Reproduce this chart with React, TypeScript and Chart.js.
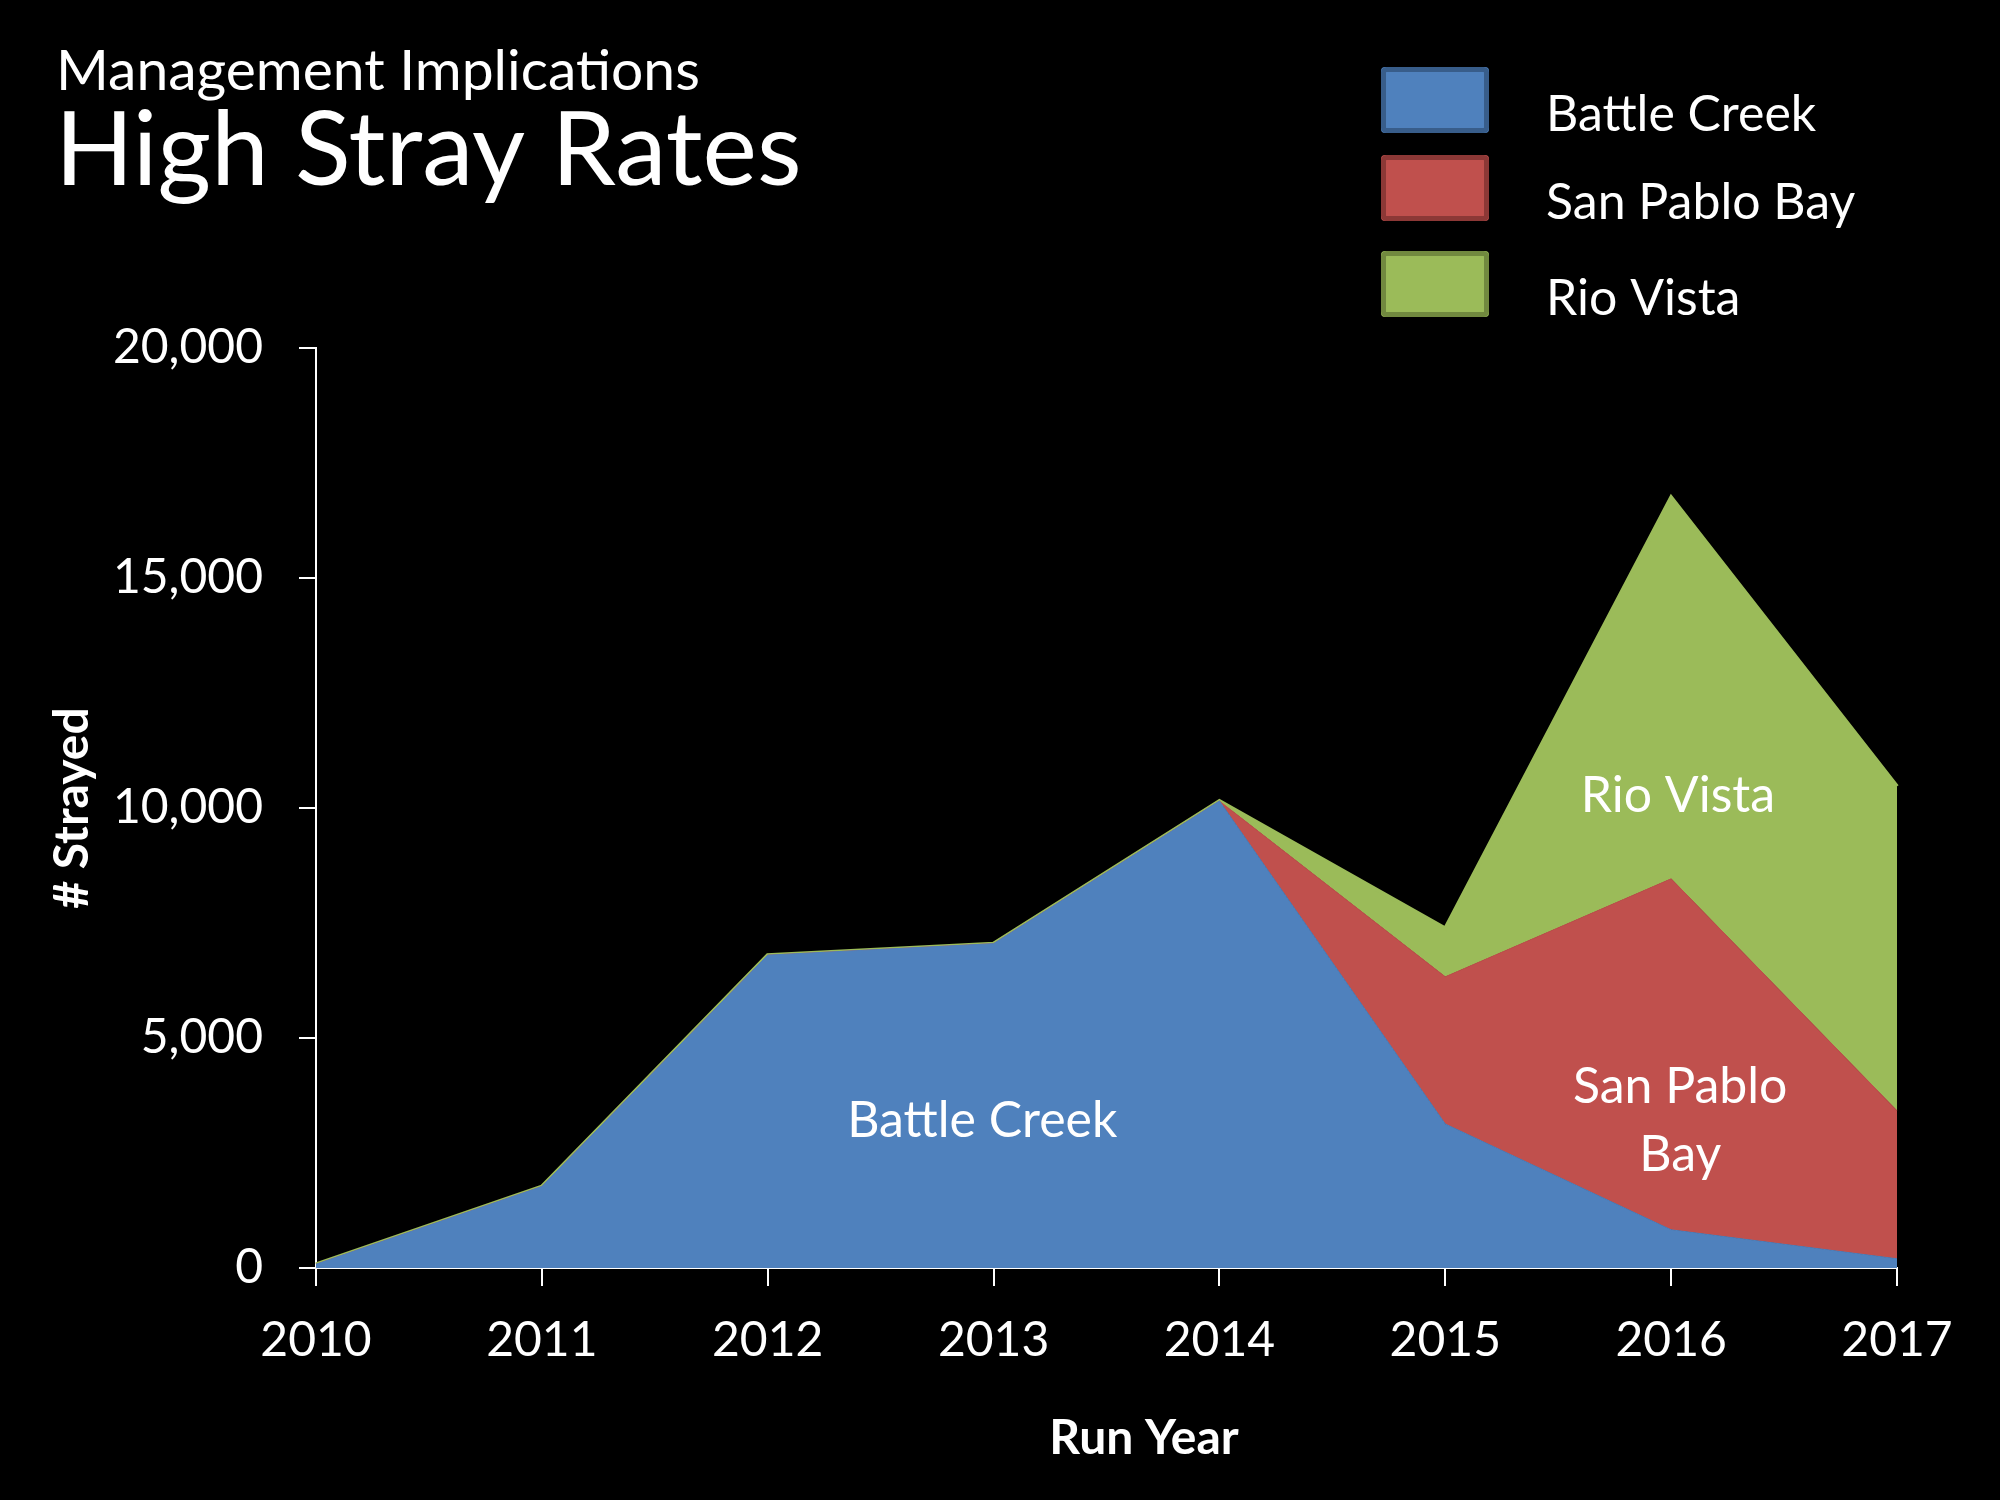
import React, { useEffect, useRef } from "react";
import { Chart, registerables } from "chart.js";

Chart.register(...registerables);

const FONT = "Lato, 'Open Sans', sans-serif";

// chart data
const runYears = ["2010", "2011", "2012", "2013", "2014", "2015", "2016", "2017"];
const battleCreek = [80, 1770, 6800, 7050, 10150, 3130, 830, 200];
const sanPabloBay = [0, 0, 0, 0, 0, 3200, 7630, 3220];
const rioVista = [0, 0, 0, 0, 0, 1050, 8290, 7050];
const yTicks = [0, 5000, 10000, 15000, 20000];

const seriesNames = ["Battle Creek", "San Pablo Bay", "Rio Vista"];
const fillColors = ["#4F81BD", "#C0504D", "#9BBB59"];
const edgeColors = ["#385D8A", "#8C3836", "#71893F"];

// in-area labels, anchored in data units (category index, value)
const areaLabels = [
  { lines: ["Battle Creek"], at: [2.95, 3200] },
  { lines: ["Rio Vista"], at: [6.03, 10260] },
  { lines: ["San Pablo", "Bay"], at: [6.04, 3200] },
];

const overlayPlugin = {
  id: "overlay",
  afterDraw(chart: Chart) {
    const ctx = chart.ctx;
    const xs = chart.scales.x;
    const ys = chart.scales.y;
    ctx.save();
    ctx.fillStyle = "#fff";
    ctx.textAlign = "left";
    ctx.textBaseline = "alphabetic";

    // slide title
    ctx.font = `57px ${FONT}`;
    ctx.fillText("Management Implications", 56, 90);
    ctx.font = `103px ${FONT}`;
    ctx.fillText("High Stray Rates", 55, 185);

    // legend
    const boxTops = [67, 155, 251];
    seriesNames.forEach((name, i) => {
      const top = boxTops[i];
      ctx.fillStyle = fillColors[i];
      ctx.beginPath();
      ctx.roundRect(1381, top, 108, 66, 4);
      ctx.fill();
      ctx.strokeStyle = edgeColors[i];
      ctx.lineWidth = 5;
      ctx.beginPath();
      ctx.roundRect(1383.5, top + 2.5, 103, 61, 3);
      ctx.stroke();
      ctx.fillStyle = "#fff";
      ctx.font = `50px ${FONT}`;
      ctx.fillText(name, 1546, top + 64);
    });

    // labels inside the areas
    ctx.textAlign = "center";
    ctx.textBaseline = "middle";
    ctx.font = `50px ${FONT}`;
    areaLabels.forEach((lbl) => {
      const px = xs.getPixelForValue(lbl.at[0]);
      const py = ys.getPixelForValue(lbl.at[1]);
      const lh = 68;
      const start = py - ((lbl.lines.length - 1) * lh) / 2;
      lbl.lines.forEach((t, k) => ctx.fillText(t, px, start + k * lh));
    });

    // x axis title
    ctx.font = `bold 48px ${FONT}`;
    ctx.fillText("Run Year", 1144, 1439);
    ctx.restore();
  },
};

export default function App() {
  const canvasRef = useRef<HTMLCanvasElement | null>(null);
  const chartRef = useRef<Chart | null>(null);

  useEffect(() => {
    if (!canvasRef.current) return;
    if (chartRef.current) chartRef.current.destroy();

    const series = [battleCreek, sanPabloBay, rioVista];

    chartRef.current = new Chart(canvasRef.current, {
      type: "line",
      data: {
        labels: runYears,
        datasets: series.map((values, i) => ({
          label: seriesNames[i],
          data: values,
          backgroundColor: fillColors[i],
          borderColor: fillColors[i],
          borderWidth: i === 2 ? 4 : 1,
          fill: i === 0 ? "origin" : "-1",
          pointRadius: 0,
          tension: 0,
        })),
      },
      options: {
        animation: false,
        responsive: true,
        maintainAspectRatio: false,
        devicePixelRatio: 1,
        layout: { padding: { left: 0, top: 348, right: 103, bottom: 0 } },
        plugins: {
          legend: { display: false },
          tooltip: { enabled: false },
        },
        scales: {
          x: {
            z: 1,
            grid: {
              drawOnChartArea: false,
              color: "#fff",
              lineWidth: 2,
              tickLength: 18,
            },
            border: { color: "#fff", width: 2 },
            ticks: {
              color: "#fff",
              padding: 26,
              maxRotation: 0,
              font: { family: FONT, size: 48 },
            },
            afterFit(scale) {
              scale.height = 232;
            },
          },
          y: {
            z: 1,
            stacked: true,
            min: 0,
            max: 20000,
            afterBuildTicks(scale) {
              scale.ticks = yTicks.map((v) => ({ value: v }));
            },
            grid: {
              drawOnChartArea: false,
              color: "#fff",
              lineWidth: 2,
              tickLength: 17,
            },
            border: { color: "#fff", width: 2 },
            ticks: {
              color: "#fff",
              padding: 36,
              font: { family: FONT, size: 48 },
              callback: (v) => Number(v).toLocaleString("en-US"),
            },
            title: {
              display: true,
              text: "# Strayed",
              color: "#fff",
              font: { family: FONT, size: 48, weight: "bold" },
              padding: { top: 44, bottom: 0 },
            },
            afterFit(scale) {
              scale.width = 316;
            },
          },
        },
      },
      plugins: [overlayPlugin],
    });

    return () => {
      if (chartRef.current) {
        chartRef.current.destroy();
        chartRef.current = null;
      }
    };
  }, []);

  return (
    <div
      style={{
        position: "fixed",
        left: 0,
        top: 0,
        width: "2000px",
        height: "1500px",
        background: "#000",
      }}
    >
      <canvas ref={canvasRef} />
    </div>
  );
}
